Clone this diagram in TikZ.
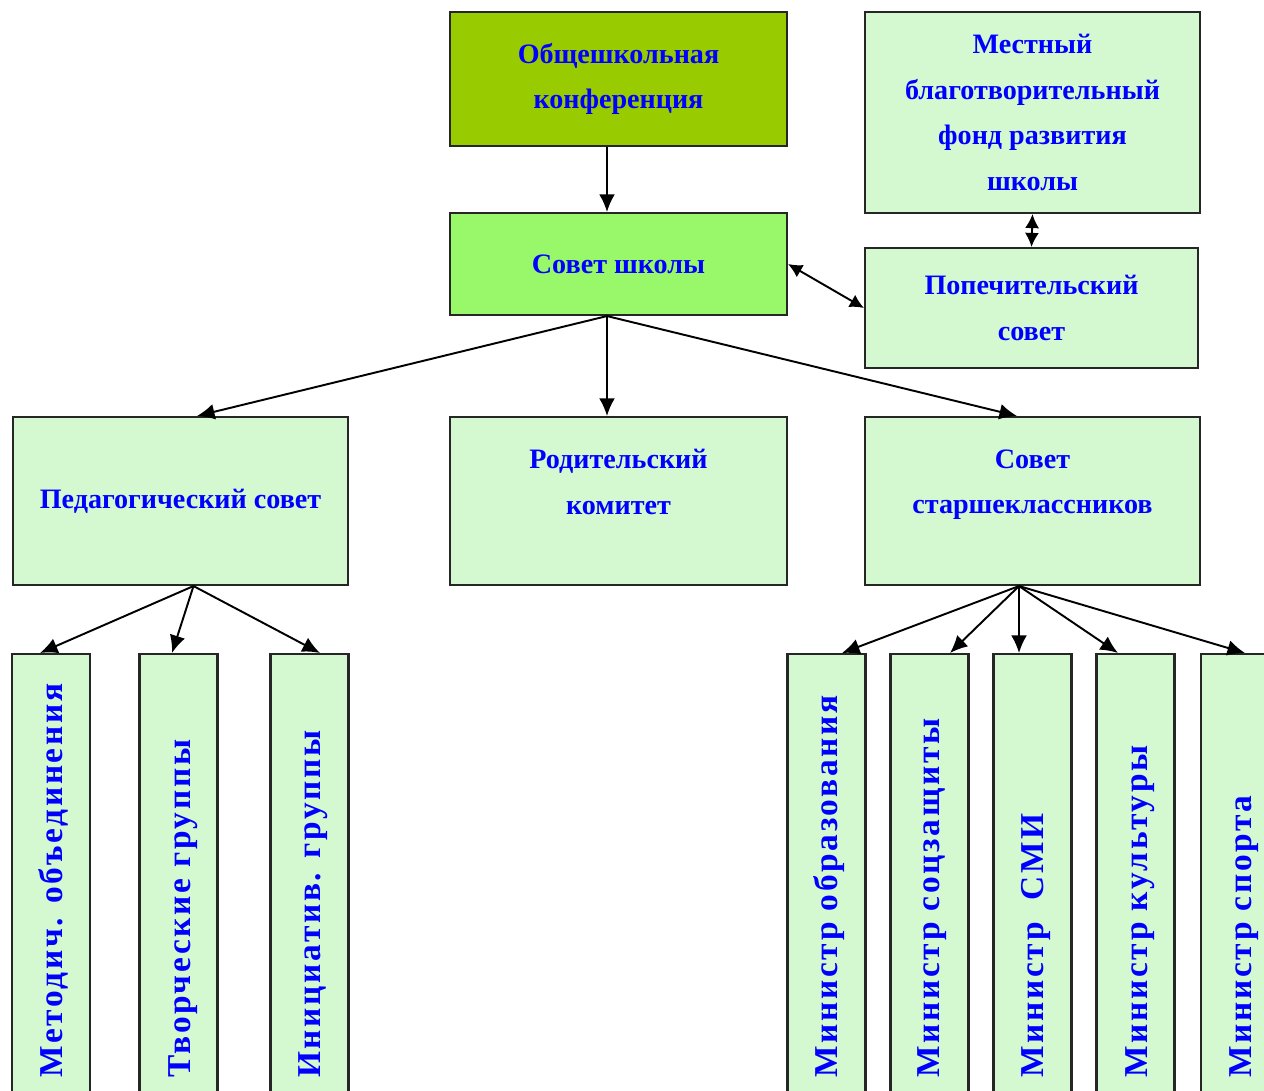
\documentclass[tikz,border=0pt]{standalone}
\usepackage{fontspec}
\setmainfont{Liberation Serif}
\usetikzlibrary{arrows.meta}
\definecolor{confgreen}{HTML}{99CC00}
\definecolor{councilgreen}{HTML}{99F76A}
\definecolor{palegreen}{HTML}{D4F8D0}
\definecolor{labelblue}{HTML}{0000FF}

\begin{document}
\begin{tikzpicture}[x=0.02cm, y=-0.02cm,
  box/.style={draw=black!85, line width=1.2pt, rectangle, fill=palegreen, align=center, text=labelblue, font=\bfseries\fontsize{16}{26}\selectfont},
  colbox/.style={draw=black!85, line width=1.2pt, rectangle, fill=palegreen, minimum width=1.56cm, minimum height=9.2cm},
  coltext/.style={rotate=90, anchor=west, text=labelblue, inner sep=0pt, font=\bfseries\fontsize{19}{22}\selectfont\addfontfeature{LetterSpace=8}},
  arr/.style={-{Latex[length=10pt,width=9pt]}, line width=1.1pt},
  twoway/.style={{Latex[length=8pt,width=8pt]}-{Latex[length=8pt,width=8pt]}, line width=1.1pt}]
\useasboundingbox (0,0) rectangle (1264,1090);
\clip (0,0) rectangle (1264,1090);

% Top level
\node[box, fill=confgreen, minimum width=6.74cm, minimum height=2.68cm] (conf) at (618.5,79) {Общешкольная\\конференция};
\node[box, minimum width=6.7cm, minimum height=4.02cm] (fund) at (1032.5,112.5) {Местный\\благотворительный\\фонд развития\\школы};
\node[box, fill=councilgreen, minimum width=6.74cm, minimum height=2.04cm] (council) at (618.5,264) {Совет школы};
\node[box, minimum width=6.66cm, minimum height=2.4cm] (trustees) at (1031.5,308) {Попечительский\\совет};

% Second level
\node[box, minimum width=6.7cm, minimum height=3.36cm] (pedagog) at (180.5,501) {Педагогический совет};
\node[box, minimum width=6.74cm, minimum height=3.36cm, text depth=22pt] (parents) at (618.5,501) {Родительский\\комитет};
\node[box, minimum width=6.7cm, minimum height=3.36cm, text depth=22pt] (seniors) at (1032.5,501) {Совет\\старшеклассников};

% Columns
\node[colbox] (method) at (51,884) {};
\node[colbox] (creative) at (178.5,884) {};
\node[colbox] (initiative) at (309.5,884) {};
\node[colbox] (education) at (826.5,884) {};
\node[colbox] (welfare) at (929.5,884) {};
\node[colbox] (media) at (1032.5,884) {};
\node[colbox] (culture) at (1135.5,884) {};
\node[colbox] (sport) at (1240,884) {};

\node[coltext] (methodtxt) at (53,1078) {Методич. объединения};
\node[coltext] (creativetxt) at (183,1078) {Творческие группы};
\node[coltext] (initiativetxt) at (313,1078) {Инициатив. группы};
\node[coltext] (educationtxt) at (829,1078) {Министр образования};
\node[coltext] (welfaretxt) at (932,1078) {Министр соцзащиты};
\node[coltext] (mediatxt) at (1036,1078) {Министр\ \ СМИ};
\node[coltext] (culturetxt) at (1140,1078) {Министр культуры};
\node[coltext] (sporttxt) at (1244,1078) {Министр спорта};

% Arrows
\draw[arr] ([xshift=-0.23cm]conf.south) -- ([xshift=-0.23cm]council.north);
\draw[twoway] (council.east) -- (trustees.west);
\draw[twoway] (fund.south) -- (trustees.north);
\draw[arr] ([xshift=-0.23cm]council.south) -- ([xshift=0.33cm]pedagog.north);
\draw[arr] ([xshift=-0.23cm]council.south) -- ([xshift=-0.23cm]parents.north);
\draw[arr] ([xshift=-0.23cm]council.south) -- ([xshift=-0.31cm]seniors.north);

\draw[arr] ([xshift=0.26cm]pedagog.south) -- ([xshift=-0.22cm]method.north);
\draw[arr] ([xshift=0.26cm]pedagog.south) -- ([xshift=-0.13cm]creative.north);
\draw[arr] ([xshift=0.26cm]pedagog.south) -- ([xshift=0.21cm]initiative.north);

\draw[arr] ([xshift=-0.27cm]seniors.south) -- ([xshift=0.31cm]education.north);
\draw[arr] ([xshift=-0.27cm]seniors.south) -- ([xshift=0.41cm]welfare.north);
\draw[arr] ([xshift=-0.27cm]seniors.south) -- ([xshift=-0.27cm]media.north);
\draw[arr] ([xshift=-0.27cm]seniors.south) -- ([xshift=-0.35cm]culture.north);
\draw[arr] ([xshift=-0.27cm]seniors.south) -- ([xshift=0.1cm]sport.north);
\end{tikzpicture}
\end{document}
